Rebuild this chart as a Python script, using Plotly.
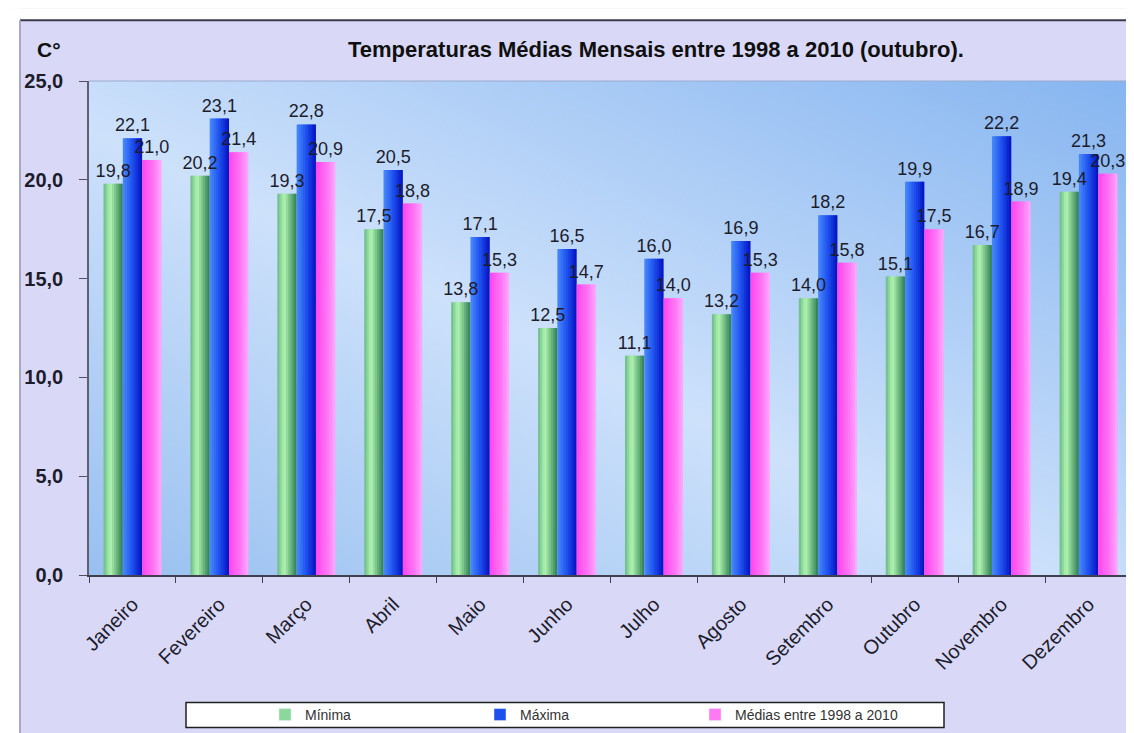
import base64
import plotly.graph_objects as go

# ---------------- data ----------------
meses = ["Janeiro", "Fevereiro", "Março", "Abril", "Maio", "Junho", "Julho",
         "Agosto", "Setembro", "Outubro", "Novembro", "Dezembro"]
minima = [19.8, 20.2, 19.3, 17.5, 13.8, 12.5, 11.1, 13.2, 14.0, 15.1, 16.7, 19.4]
maxima = [22.1, 23.1, 22.8, 20.5, 17.1, 16.5, 16.0, 16.9, 18.2, 19.9, 22.2, 21.3]
medias = [21.0, 21.4, 20.9, 18.8, 15.3, 14.7, 14.0, 15.3, 15.8, 17.5, 18.9, 20.3]
nomes = ["Mínima", "Máxima", "Médias entre 1998 a 2010"]
y_ticks = [0, 5, 10, 15, 20, 25]
titulo = "Temperaturas Médias Mensais entre 1998 a 2010 (outubro)."
unidade = "C°"

# ---------------- layout helpers (pixels -> paper) ----------------
W, H = 1134, 733
L, R, T, B = 81, 1124, 73, 569


def px(x):
    return (x - L) / (R - L)


def py(y):
    return (B - y) / (B - T)


def hex2rgb(c):
    return [int(c[i:i + 2], 16) for i in (1, 3, 5)]


def grad_color(stops, t):
    for (t0, c0), (t1, c1) in zip(stops[:-1], stops[1:]):
        if t0 <= t <= t1:
            f = (t - t0) / (t1 - t0) if t1 > t0 else 0
            a, b = hex2rgb(c0), hex2rgb(c1)
            return "#" + "".join(f"{round(a[k] + (b[k] - a[k]) * f):02x}" for k in range(3))
    return stops[-1][1]


# horizontal gradient stops per series (style only)
grads = [
    [(0.0, "#6ab888"), (0.35, "#b2f6b2"), (1.0, "#2c7c52")],
    [(0.0, "#4a8cfa"), (0.5, "#1e50ee"), (1.0, "#0410c0")],
    [(0.0, "#ff44ee"), (0.6, "#ff78f4"), (1.0, "#ffaaff")],
]
series = [minima, maxima, medias]
legend_cols = ["#8cd89c", "#1e50ee", "#ff78f4"]

group_w = 0.667
bar_w = group_w / 3
K = 9  # strips per bar to fake the horizontal gradient
strip_w = bar_w / K

fig = go.Figure()
# 1) the bars (gradient strips)
for s, (vals, nome, stops) in enumerate(zip(series, nomes, grads)):
    for k in range(K):
        off = -group_w / 2 + s * bar_w + k * strip_w
        wdt = strip_w * (1.6 if k < K - 1 else 1.0)
        fig.add_trace(go.Bar(
            x=meses, y=vals, name=nome,
            width=wdt, offset=off,
            marker=dict(color=grad_color(stops, (k + 0.5) / K), line=dict(width=0)),
            legendgroup=nome, showlegend=False,
            hovertemplate="%{x}: %{y:.1f}<extra>" + nome + "</extra>",
        ))

# 2) value labels on top of everything
for s, (vals, nome) in enumerate(zip(series, nomes)):
    fig.add_trace(go.Bar(
        x=meses, y=vals, name=nome,
        width=bar_w, offset=-group_w / 2 + s * bar_w,
        marker=dict(color="rgba(0,0,0,0)", line=dict(width=0)),
        legendgroup=nome, showlegend=False,
        texttemplate="%{y:.1f}", textposition="outside",
        textfont=dict(family="Liberation Sans, Arial", size=18, color="#1c1c2c"),
        constraintext="none", cliponaxis=False, hoverinfo="skip",
    ))

# 3) legend entries
for nome, col in zip(nomes, legend_cols):
    fig.add_trace(go.Bar(x=[None], y=[None], name=nome, legendgroup=nome,
                         marker=dict(color=col), showlegend=True))

# plot-area gradient background as an svg image
svg = ('<svg xmlns="http://www.w3.org/2000/svg" width="200" height="100" '
       'viewBox="0 0 200 100" preserveAspectRatio="none"><defs>'
       '<linearGradient id="g" x1="0" y1="1" x2="1" y2="0">'
       '<stop offset="0" stop-color="#98c0f0"/>'
       '<stop offset="0.45" stop-color="#cde1fb"/>'
       '<stop offset="1" stop-color="#86b5f0"/>'
       '</linearGradient></defs><rect width="200" height="100" fill="url(#g)"/></svg>')
src = "data:image/svg+xml;base64," + base64.b64encode(svg.encode()).decode()

shapes = [
    dict(type="rect", xref="paper", yref="paper", x0=px(0), x1=px(W), y0=py(0), y1=py(12),
         fillcolor="white", line=dict(width=0), layer="below"),
    dict(type="rect", xref="paper", yref="paper", x0=px(0), x1=px(12), y0=py(0), y1=py(H),
         fillcolor="white", line=dict(width=0), layer="below"),
    dict(type="line", xref="paper", yref="paper", x0=px(12), x1=px(W), y0=py(12), y1=py(12),
         line=dict(color="#3a3a4c", width=2)),
    dict(type="line", xref="paper", yref="paper", x0=px(12), x1=px(12), y0=py(12), y1=py(H),
         line=dict(color="#a8a8c4", width=2)),
    dict(type="rect", xref="paper", yref="paper", x0=px(178), x1=px(936), y0=py(722), y1=py(697),
         fillcolor="white", line=dict(color="#202020", width=1.5), layer="below"),
    dict(type="line", xref="paper", yref="paper", x0=0, x1=1, y0=1, y1=1,
         line=dict(color="#9aaad0", width=1)),
    dict(type="line", xref="paper", yref="paper", x0=1, x1=1, y0=0, y1=1,
         line=dict(color="#9aaad0", width=1)),
]

fig.update_layout(
    width=W, height=H, autosize=False,
    margin=dict(l=L, r=W - R, t=T, b=H - B, pad=0),
    paper_bgcolor="#d9d9f7", plot_bgcolor="rgba(0,0,0,0)",
    separators=",.",
    barmode="overlay",
    font=dict(family="Liberation Sans, Arial", color="#1c1c2c"),
    images=[dict(source=src, xref="paper", yref="paper", x=0, y=1, sizex=1, sizey=1,
                 xanchor="left", yanchor="top", sizing="stretch", layer="below")],
    shapes=shapes,
    annotations=[
        dict(text="<b>" + titulo + "</b>", xref="paper", yref="paper", x=px(648), y=py(41),
             xanchor="center", yanchor="middle", showarrow=False,
             font=dict(family="Liberation Sans, Arial", size=22, color="#101010")),
        dict(text="<b>" + unidade + "</b>", xref="paper", yref="paper", x=px(41), y=py(41),
             xanchor="center", yanchor="middle", showarrow=False,
             font=dict(family="Liberation Sans, Arial", size=21, color="#101010")),
    ],
    xaxis=dict(type="category", categoryorder="array", categoryarray=meses,
               range=[-0.5, 11.5], tickson="boundaries", ticks="outside",
               ticklen=6, tickcolor="#404050", showline=True, linecolor="#404050", linewidth=1.5,
               tickangle=-45, showgrid=False, ticklabelstandoff=8,
               tickfont=dict(family="Liberation Sans, Arial", size=20, color="#1c1c2c")),
    yaxis=dict(range=[0, 25], tickvals=y_ticks, tickformat=".1f", ticks="outside", ticklen=8,
               tickcolor="#505060", showline=True, linecolor="#606070", linewidth=1.5,
               showgrid=False, zeroline=False, ticklabelstandoff=12,
               tickfont=dict(family="Liberation Sans, Arial", size=20, color="#1c1c2c",
                             weight="bold")),
    legend=dict(orientation="h", x=px(257), y=py(709.5), xanchor="left", yanchor="middle",
                bgcolor="rgba(0,0,0,0)", borderwidth=0, entrywidth=170, entrywidthmode="pixels",
                itemwidth=30, traceorder="normal",
                font=dict(family="Liberation Sans, Arial", size=14, color="#333333")),
)

fig.write_html("out.html")
